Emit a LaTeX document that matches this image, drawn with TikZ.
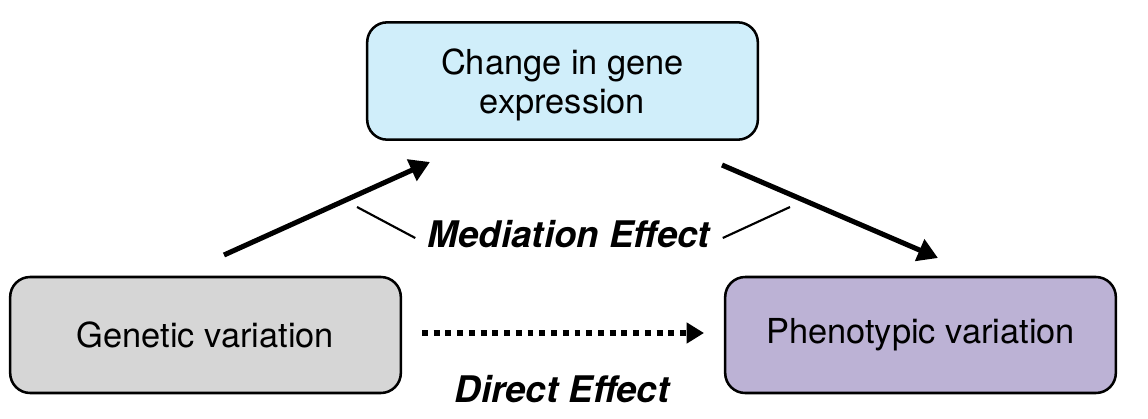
\documentclass[tikz,border=0pt]{standalone}
\usepackage{fontspec}
\setmainfont{TeX Gyre Heros}
\usetikzlibrary{
    arrows.meta,
    positioning
}
\definecolor{exprBlue}{RGB}{208,238,250}
\definecolor{geneGray}{RGB}{214,214,214}
\definecolor{phenoPurple}{RGB}{188,178,213}
\tikzset{
  box/.style   = {draw, line width=1.9pt, rounded corners=15pt, minimum width=293pt,
                  minimum height=87pt, align=center,
                  font=\fontsize{25.8}{29.5}\selectfont},
  lbl/.style   = {font=\fontsize{27.5}{30}\selectfont\bfseries\itshape},
  arr/.style   = {-{Triangle[length=15pt,width=17pt]}, line width=3.8pt},
  darr/.style  = {-{Triangle[length=13pt,width=15pt]}, line width=3.8pt,
                  dash pattern=on 4.4pt off 4.4pt},
  tick/.style  = {line width=1.6pt}
}

\begin{document}
\begin{tikzpicture}[x=0.75pt,y=-0.75pt]
    \useasboundingbox (0,0) rectangle (1148,418);
    \node[box, fill=exprBlue, minimum height=88pt] (E) at (562.5,81) {};
    \node (Etxt) at (562.5,85) [align=center, font=\fontsize{25.8}{29.5}\selectfont] {Change in gene\\expression};
    \node[box, fill=geneGray] (G) at (205.5,335) {Genetic variation};
    \node[box, fill=phenoPurple] (P) at (920.5,335) {Phenotypic variation};

    \node[lbl] (med) at (569,234) {Mediation Effect};
    \node[lbl] (dir) at (562,389) {Direct Effect};

    % free ends of the arrows
    \coordinate (g1) at (224,255);
    \coordinate (e1) at (430,162);
    \coordinate (e2) at (722,165);
    \coordinate (p1) at (938,258);
    \coordinate (g2) at (422,333);
    \coordinate (p2) at (704,333);
    \coordinate (m1) at (357,207);
    \coordinate (m2) at (790,207);

    \draw[arr] (g1) -- (e1);
    \draw[arr] (e2) -- (p1);
    \draw[darr] (g2) -- (p2);
    \draw[tick] (m1) -- ([xshift=-6pt,yshift=-3pt]med.west);
    \draw[tick] (m2) -- ([xshift=6pt,yshift=-3pt]med.east);
  \end{tikzpicture}
\end{document}
